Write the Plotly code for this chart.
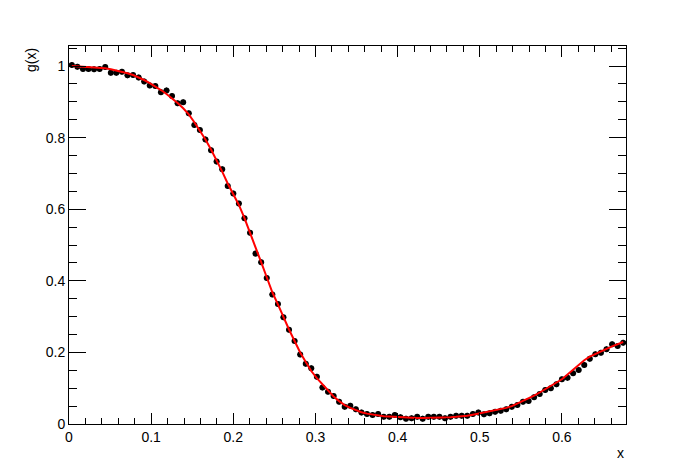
import plotly.graph_objs as go

# bin centres of the measured points
x_vals = [
    0.0034, 0.0102, 0.0170, 0.0237, 0.0305, 0.0373, 0.0441, 0.0509, 0.0576, 0.0644,
    0.0712, 0.0780, 0.0848, 0.0915, 0.0983, 0.1051, 0.1119, 0.1187, 0.1254, 0.1322,
    0.1390, 0.1458, 0.1526, 0.1593, 0.1661, 0.1729, 0.1797, 0.1865, 0.1932, 0.2000,
    0.2068, 0.2136, 0.2204, 0.2271, 0.2339, 0.2407, 0.2475, 0.2543, 0.2610, 0.2678,
    0.2746, 0.2814, 0.2882, 0.2949, 0.3017, 0.3085, 0.3153, 0.3221, 0.3288, 0.3356,
    0.3424, 0.3492, 0.3560, 0.3627, 0.3695, 0.3763, 0.3831, 0.3899, 0.3966, 0.4034,
    0.4102, 0.4170, 0.4238, 0.4305, 0.4373, 0.4441, 0.4509, 0.4577, 0.4644, 0.4712,
    0.4780, 0.4848, 0.4916, 0.4983, 0.5051, 0.5119, 0.5187, 0.5255, 0.5322, 0.5390,
    0.5458, 0.5526, 0.5594, 0.5661, 0.5729, 0.5797, 0.5865, 0.5933, 0.6000, 0.6068,
    0.6136, 0.6204, 0.6272, 0.6339, 0.6407, 0.6475, 0.6543, 0.6611, 0.6678, 0.6746,
]

# measured g(x)
g_vals = [
    1.003, 0.998, 0.992, 0.992, 0.991, 0.992, 0.997, 0.981, 0.981, 0.984,
    0.974, 0.975, 0.968, 0.957, 0.946, 0.944, 0.927, 0.932, 0.916, 0.896,
    0.899, 0.868, 0.835, 0.821, 0.795, 0.765, 0.733, 0.712, 0.665, 0.644,
    0.616, 0.575, 0.534, 0.476, 0.452, 0.408, 0.362, 0.335, 0.298, 0.263,
    0.232, 0.194, 0.168, 0.156, 0.132, 0.102, 0.090, 0.078, 0.062, 0.048,
    0.051, 0.041, 0.032, 0.028, 0.025, 0.028, 0.020, 0.020, 0.025, 0.019,
    0.015, 0.016, 0.020, 0.015, 0.020, 0.020, 0.020, 0.016, 0.020, 0.023,
    0.023, 0.023, 0.028, 0.032, 0.027, 0.030, 0.034, 0.037, 0.041, 0.048,
    0.053, 0.062, 0.064, 0.075, 0.084, 0.095, 0.100, 0.111, 0.125, 0.129,
    0.142, 0.151, 0.165, 0.182, 0.195, 0.199, 0.209, 0.223, 0.218, 0.227,
]

# fitted curve (red)
fit_vals = [
    1.000, 0.999, 0.998, 0.997, 0.997, 0.996, 0.994, 0.991, 0.988, 0.985,
    0.980, 0.975, 0.969, 0.961, 0.952, 0.943, 0.933, 0.922, 0.910, 0.897,
    0.882, 0.865, 0.843, 0.820, 0.795, 0.767, 0.737, 0.705, 0.672, 0.643,
    0.612, 0.575, 0.532, 0.490, 0.452, 0.410, 0.368, 0.334, 0.298, 0.264,
    0.232, 0.200, 0.173, 0.148, 0.128, 0.110, 0.093, 0.077, 0.064, 0.053,
    0.045, 0.038, 0.033, 0.029, 0.026, 0.024, 0.022, 0.021, 0.020, 0.019,
    0.018, 0.017, 0.017, 0.017, 0.017, 0.017, 0.017, 0.018, 0.019, 0.020,
    0.021, 0.023, 0.026, 0.029, 0.031, 0.034, 0.037, 0.041, 0.045, 0.050,
    0.057, 0.064, 0.071, 0.079, 0.088, 0.097, 0.105, 0.114, 0.125, 0.138,
    0.152, 0.166, 0.178, 0.188, 0.196, 0.203, 0.210, 0.217, 0.223, 0.229,
]

x_err = 0.0034
g_err = 0.008

fig = go.Figure()

fig.add_trace(go.Scatter(
    x=x_vals, y=g_vals, mode='markers',
    marker=dict(color='black', size=6),
    error_x=dict(type='constant', value=x_err, color='black', thickness=1, width=0),
    error_y=dict(type='constant', value=g_err, color='black', thickness=1, width=0),
    showlegend=False,
))

fig.add_trace(go.Scatter(
    x=x_vals, y=fit_vals, mode='lines',
    line=dict(color='red', width=2),
    showlegend=False,
))

axis_common = dict(
    showgrid=False, zeroline=False, showline=True, linecolor='black', linewidth=1,
    mirror='ticks', ticks='inside', tickcolor='black', tickwidth=1, automargin=False,
    tickfont=dict(family='Liberation Sans, Arial', size=14, color='black'),
)

fig.update_xaxes(
    range=[0, 0.678], dtick=0.1, tick0=0, ticklen=11,
    minor=dict(dtick=0.02, ticklen=6, ticks='inside', tickcolor='black'),
    **axis_common
)
fig.update_yaxes(
    range=[0, 1.056], dtick=0.2, tick0=0, ticklen=17,
    minor=dict(dtick=0.05, ticklen=8, ticks='inside', tickcolor='black'),
    **axis_common
)

# page body has an 8px margin, so the plot box is offset to land at 69..626 x 46..424
fig.update_layout(
    width=696, height=472,
    margin=dict(l=61, r=78, t=38, b=56),
    paper_bgcolor='white', plot_bgcolor='white',
    annotations=[
        dict(text='x', xref='paper', yref='paper', x=1, y=0, yshift=-19,
             xanchor='right', yanchor='top', showarrow=False,
             font=dict(family='Liberation Sans, Arial', size=14, color='black')),
        dict(text='g(x)', xref='paper', yref='paper', x=0, y=1, xshift=-38,
             xanchor='center', yanchor='top', textangle=-90, showarrow=False,
             font=dict(family='Liberation Sans, Arial', size=14, color='black')),
    ],
)

fig.write_html("out.html")
